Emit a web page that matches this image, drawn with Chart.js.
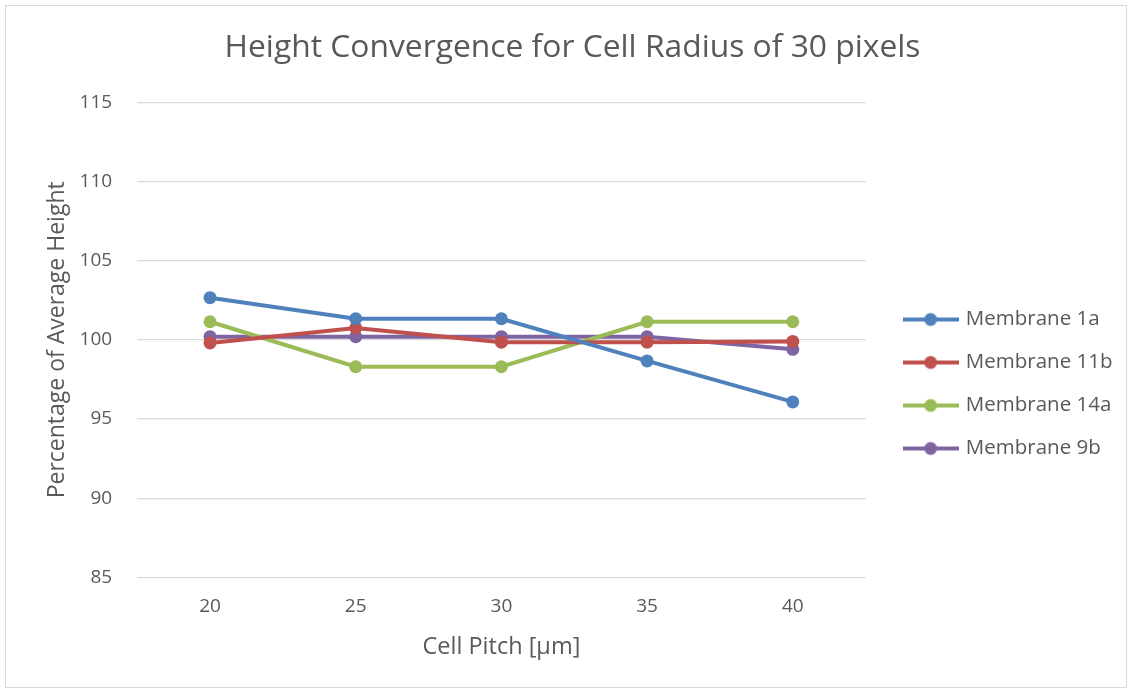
<!DOCTYPE html>
<html lang="en">
<head>
<meta charset="utf-8">
<title>Height Convergence</title>
<script src="https://cdn.jsdelivr.net/npm/chart.js@4.4.0/dist/chart.umd.min.js"></script>
<style>
  html, body { margin: 0; padding: 0; background: #fff; }
  .frame { position: absolute; left: 5px; top: 5px; width: 1122px; height: 683px; border: 1px solid #d9d9d9; box-sizing: border-box; }
  .box { position: absolute; left: 0; top: 0; width: 1130px; height: 691px; }
</style>
</head>
<body>
<div class="frame"></div>
<div class="box"><canvas id="chart" width="1130" height="691"></canvas></div>
<script>
// cell pitch values on the x axis
var pitches = ['20', '25', '30', '35', '40'];

// percentage of average height per membrane
var membrane1a  = [102.66, 101.33, 101.33, 98.67, 96.08];
var membrane11b = [99.8, 100.75, 99.85, 99.85, 99.9];
var membrane14a = [101.14, 98.3, 98.3, 101.14, 101.14];
var membrane9b  = [100.2, 100.2, 100.2, 100.2, 99.4];

var seriesNames = ['Membrane 1a', 'Membrane 11b', 'Membrane 14a', 'Membrane 9b'];
var seriesColors = ['#4f81bd', '#c0504d', '#9bbb59', '#8064a2'];

var yMin = 85, yMax = 115, yStep = 5;

var textColor = '#595959';
var fontFamily = '"Open Sans", sans-serif';

var xTickPad = 18, yTickPad = 25;

// little line-with-dot swatch for the legend
function swatch(color) {
  var c = document.createElement('canvas');
  c.width = 56; c.height = 16;
  var g = c.getContext('2d');
  g.strokeStyle = color;
  g.lineWidth = 4;
  g.beginPath();
  g.moveTo(0, 8); g.lineTo(56, 8);
  g.stroke();
  g.fillStyle = color;
  g.beginPath();
  g.arc(28, 8, 6.5, 0, Math.PI * 2);
  g.fill();
  return c;
}

// push the legend a bit away from the plot and lower down
var legendNudge = {
  id: 'legendNudge',
  afterLayout: function (ch) {
    var lg = ch.legend;
    lg.left += 17.5; lg.right += 17.5;
    lg.top += 37; lg.bottom += 37;
  }
};

var allData = [membrane1a, membrane11b, membrane14a, membrane9b];
var datasets = allData.map(function (d, i) {
  return {
    label: seriesNames[i],
    data: d,
    borderColor: seriesColors[i],
    backgroundColor: seriesColors[i],
    borderWidth: 4,
    pointRadius: 6.5,
    pointHoverRadius: 6.5,
    pointBorderWidth: 0,
    tension: 0
  };
});

var ctx = document.getElementById('chart').getContext('2d');
var chart = new Chart(ctx, {
  type: 'line',
  data: { labels: pitches, datasets: datasets },
  plugins: [legendNudge],
  options: {
    responsive: false,
    animation: false,
    layout: { padding: { left: 40, right: 25, top: 29, bottom: 26 } },
    plugins: {
      title: {
        display: true,
        text: 'Height Convergence for Cell Radius of 30 pixels',
        color: textColor,
        font: { family: fontFamily, size: 31.8, weight: 'normal' },
        padding: { top: 0, bottom: 35 }
      },
      legend: {
        position: 'right',
        labels: {
          color: textColor,
          font: { family: fontFamily, size: 20.5 },
          usePointStyle: true,
          pointStyleWidth: 50,
          padding: 22.5,
          generateLabels: function (ch) {
            return ch.data.datasets.map(function (ds, i) {
              return {
                text: ds.label,
                pointStyle: swatch(seriesColors[i]),
                fontColor: textColor,
                datasetIndex: i,
                lineWidth: 0,
                hidden: false
              };
            });
          }
        }
      },
      tooltip: { enabled: false }
    },
    scales: {
      x: {
        offset: true,
        grid: { display: false, drawTicks: false },
        border: { display: false },
        ticks: { color: textColor, font: { family: fontFamily, size: 19 }, padding: xTickPad },
        title: {
          display: true,
          text: 'Cell Pitch [µm]',
          color: textColor,
          font: { family: fontFamily, size: 23.5 },
          padding: { top: 14.5, bottom: 4 }
        },
        // tick padding is counted twice when the axis is sized
        afterFit: function (s) { s.height -= xTickPad; }
      },
      y: {
        min: yMin,
        max: yMax,
        grid: { color: '#d9d9d9', lineWidth: 1.2, drawTicks: false },
        border: { display: false },
        ticks: { stepSize: yStep, color: textColor, font: { family: fontFamily, size: 19 }, padding: yTickPad },
        title: {
          display: true,
          text: 'Percentage of Average Height',
          color: textColor,
          font: { family: fontFamily, size: 23 },
          padding: { top: 4, bottom: 8 }
        },
        afterFit: function (s) { s.width -= yTickPad; }
      }
    }
  }
});
</script>
</body>
</html>
